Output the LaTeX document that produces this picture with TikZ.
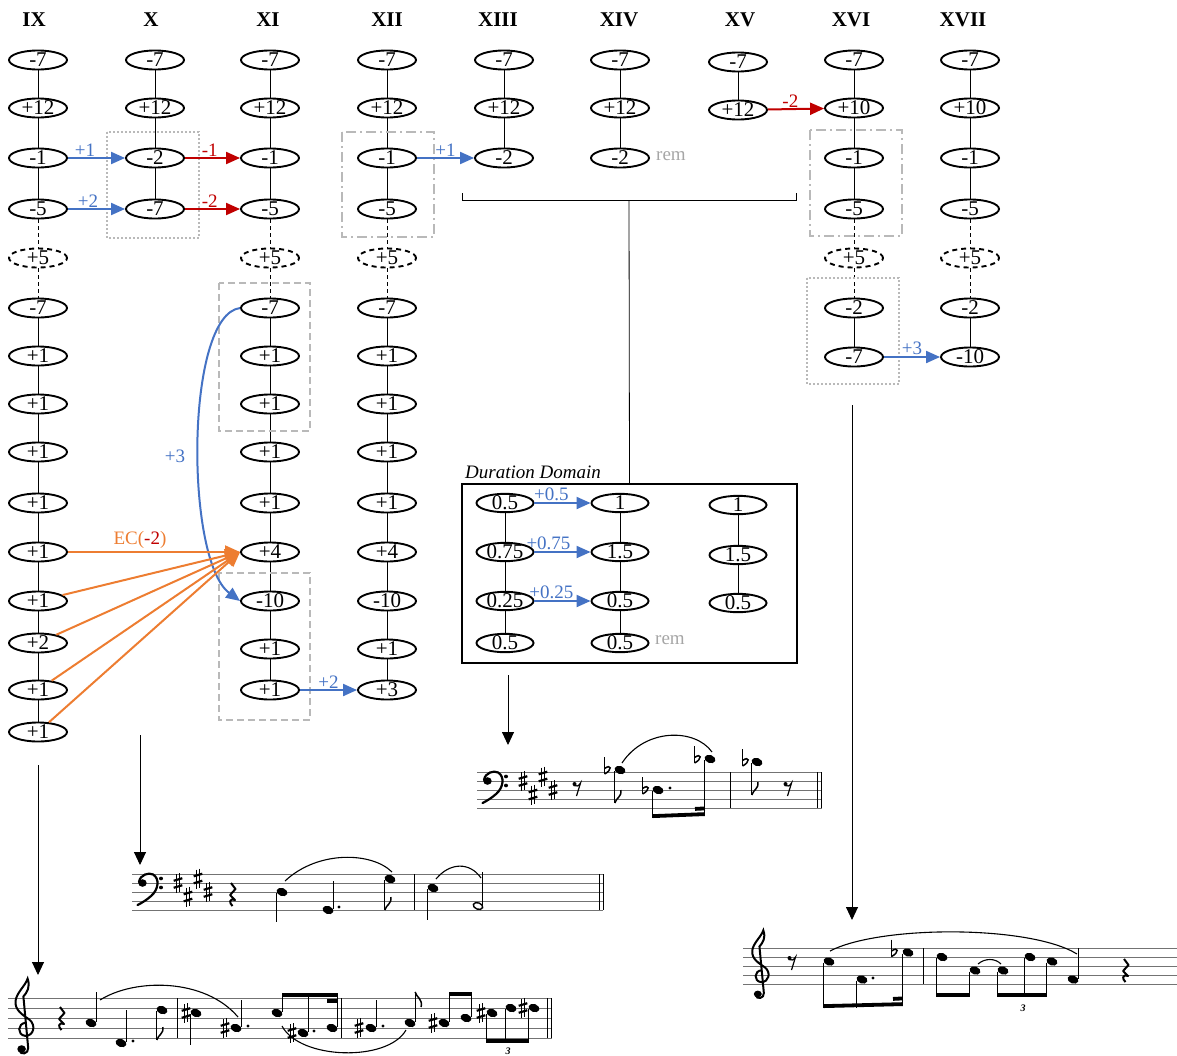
\documentclass[tikz,border=0pt]{standalone}
\usepackage{fontspec}
\setmainfont{Liberation Serif}
\usetikzlibrary{shapes.geometric, arrows.meta}

\definecolor{ablue}{RGB}{68,114,196}
\definecolor{ared}{RGB}{192,0,0}
\definecolor{aorange}{RGB}{237,125,49}
\definecolor{boxgray}{RGB}{185,185,185}
\definecolor{remgray}{RGB}{166,166,166}

% small helpers for the music excerpts
\newcommand{\staff}[4]{\foreach \k in {0,...,4} \draw[line width=0.8pt, black!55] (#1,#3+\k*#4) -- (#2,#3+\k*#4);}
\newcommand{\nhead}[2]{\fill[rotate around={-20:(#1,#2)}] (#1,#2) ellipse (5.6 and 4);}
\newcommand{\ohead}[2]{\draw[line width=1.4pt, rotate around={-20:(#1,#2)}] (#1,#2) ellipse (4.9 and 3.2);}
\newcommand{\stup}[3]{\draw[line width=1pt] (#1+5.1,#2-1) -- (#1+5.1,#3);}
\newcommand{\stdn}[3]{\draw[line width=1pt] (#1-5.1,#2+1) -- (#1-5.1,#3);}
\newcommand{\ndot}[2]{\fill (#1,#2) circle (1.6);}
\newcommand{\shrp}[2]{%
  \draw[line width=0.9pt] (#1-1.8,#2-9) -- (#1-1.8,#2+10) (#1+1.8,#2-10) -- (#1+1.8,#2+9);
  \draw[line width=2.2pt] (#1-4.3,#2-2.2) -- (#1+4.3,#2-4.8) (#1-4.3,#2+4.8) -- (#1+4.3,#2+2.2);}
\newcommand{\flt}[2]{%
  \draw[line width=1pt] (#1-2.5,#2-13) -- (#1-2.5,#2+4);
  \draw[line width=1.5pt] (#1-2.5,#2+4) .. controls (#1+5.5,#2) and (#1+4.5,#2-6.5) .. (#1-2.5,#2-1.5);}
\newcommand{\flagdn}[2]{\draw[line width=1.5pt] (#1,#2) .. controls (#1+1,#2-5) and (#1+7,#2-6) .. (#1+6,#2-13);}
\newcommand{\flagup}[2]{\draw[line width=1.5pt] (#1,#2) .. controls (#1+1,#2+5) and (#1+8,#2+7) .. (#1+6,#2+15);}
\newcommand{\qrest}[2]{\draw[line width=2pt, line join=round] (#1-1,#2-11) -- (#1+3.5,#2-5) -- (#1-2,#2+1) -- (#1+3,#2+6) .. controls (#1-3,#2+4) and (#1-3,#2+9) .. (#1+0.5,#2+12);}
\newcommand{\erest}[2]{\fill (#1-2.5,#2-4) circle (2); \draw[line width=1.2pt] (#1-3.5,#2-2.5) .. controls (#1-1,#2-1) and (#1+2,#2-2) .. (#1+3.5,#2-5) -- (#1-0.5,#2+8);}
\newcommand{\beam}[4]{\draw[line width=3.8pt] (#1,#2) -- (#3,#4);}
\newcommand{\barl}[3]{\draw[line width=0.9pt] (#1,#2) -- (#1,#3);}
\newcommand{\gclef}[4]{%
  \begin{scope}[shift={(#1,#2)}, x=#3, y=#4]
    \draw[line width=2pt, line cap=round] (0.15,0.5) .. controls (-0.55,0.45) and (-0.6,-0.65) .. (0.1,-0.75)
      .. controls (0.85,-0.75) and (1.0,0.3) .. (0.45,0.8) .. controls (-0.1,1.25) and (-0.8,1.7) .. (-0.7,2.6)
      .. controls (-0.6,3.4) and (0.1,4.0) .. (0.3,4.7) .. controls (0.55,3.9) and (0.25,3.4) .. (-0.05,3.0)
      -- (0.35,-1.9) .. controls (0.4,-2.45) and (-0.3,-2.65) .. (-0.4,-2.1);
    \fill (-0.2,-2.0) circle (0.36);
  \end{scope}}
\newcommand{\fclef}[4]{%
  \begin{scope}[shift={(#1,#2)}, x=#3, y=#4]
    \fill (-0.45,0.0) circle (0.42);
    \draw[line width=2.2pt, line cap=round] (-0.8,0.1) .. controls (-0.7,0.95) and (0.2,1.2) .. (0.6,0.95)
      .. controls (1.3,0.5) and (1.15,-0.75) .. (0.4,-1.45) .. controls (0,-1.85) and (-0.5,-2.2) .. (-0.95,-2.45);
    \fill (1.4,0.5) circle (0.2);
    \fill (1.4,-0.5) circle (0.2);
  \end{scope}}

\begin{document}
\begin{tikzpicture}[x=1pt, y=-1pt,
    pc/.style={ellipse, draw, line width=1.9pt, minimum width=58pt, minimum height=19pt, inner sep=0pt, text height=13pt, text depth=0pt, font=\fontsize{21}{21}\selectfont},
    ghost/.style={pc, dash pattern=on 5pt off 4pt},
    dur/.style={pc, minimum width=57pt, minimum height=17pt},
    hdr/.style={font=\fontsize{21}{21}\selectfont\bfseries},
    lab/.style={font=\fontsize{19}{19}\selectfont, inner sep=1pt},
    link/.style={line width=0.8pt},
    dlink/.style={line width=0.8pt, dash pattern=on 4pt off 3pt},
    barrow/.style={-{Triangle[length=14pt,width=12pt]}, ablue, line width=2pt},
    rarrow/.style={-{Triangle[length=14pt,width=12pt]}, ared, line width=2pt},
    oarrow/.style={-{Triangle[length=15pt,width=13pt]}, aorange, line width=2pt},
    darrow/.style={-{Triangle[length=13pt,width=12pt]}, line width=0.9pt},
    dotbox/.style={boxgray, line width=1.5pt, dash pattern=on 2pt off 2pt},
    dashbox/.style={boxgray, line width=1.5pt, dash pattern=on 7pt off 4pt},
    dotdashbox/.style={boxgray, line width=1.5pt, dash pattern=on 10pt off 4pt on 2pt off 4pt},
    slur/.style={line width=1.1pt}]
    \useasboundingbox (0,0) rectangle (1177,1055);

    % Column headers
    \node[hdr] (hIX) at (34,20) {IX};
    \node[hdr] (hX) at (151,20) {X};
    \node[hdr] (hXI) at (268,20) {XI};
    \node[hdr] (hXII) at (387,20) {XII};
    \node[hdr] (hXIII) at (498,20) {XIII};
    \node[hdr] (hXIV) at (619,20) {XIV};
    \node[hdr] (hXV) at (740,20) {XV};
    \node[hdr] (hXVI) at (851,20) {XVI};
    \node[hdr] (hXVII) at (963,20) {XVII};

    % Column IX
    \node[pc] (IX1) at (38,60) {-7};
    \node[pc] (IX2) at (38,108) {+12};
    \node[pc] (IX3) at (38,158) {-1};
    \node[pc] (IX4) at (38,209) {-5};
    \node[ghost] (IX5) at (38,258) {+5};
    \node[pc] (IX6) at (38,308) {-7};
    \node[pc] (IX7) at (38,356) {+1};
    \node[pc] (IX8) at (38,404) {+1};
    \node[pc] (IX9) at (38,452) {+1};
    \node[pc] (IX10) at (38,503) {+1};
    \node[pc] (IX11) at (38,552) {+1};
    \node[pc] (IX12) at (38,601) {+1};
    \node[pc] (IX13) at (38,643) {+2};
    \node[pc] (IX14) at (38,690) {+1};
    \node[pc] (IX15) at (38,732) {+1};

    % Column X
    \node[pc] (X1) at (155,60) {-7};
    \node[pc] (X2) at (155,108) {+12};
    \node[pc] (X3) at (155,158) {-2};
    \node[pc] (X4) at (155,209) {-7};

    % Column XI
    \node[pc] (XI1) at (270,60) {-7};
    \node[pc] (XI2) at (270,108) {+12};
    \node[pc] (XI3) at (270,158) {-1};
    \node[pc] (XI4) at (270,209) {-5};
    \node[ghost] (XI5) at (270,258) {+5};
    \node[pc] (XI6) at (270,308) {-7};
    \node[pc] (XI7) at (270,356) {+1};
    \node[pc] (XI8) at (270,404) {+1};
    \node[pc] (XI9) at (270,452) {+1};
    \node[pc] (XI10) at (270,503) {+1};
    \node[pc] (XI11) at (270,552) {+4};
    \node[pc] (XI12) at (270,601) {-10};
    \node[pc] (XI13) at (270,649) {+1};
    \node[pc] (XI14) at (270,690) {+1};

    % Column XII
    \node[pc] (XII1) at (387,60) {-7};
    \node[pc] (XII2) at (387,108) {+12};
    \node[pc] (XII3) at (387,158) {-1};
    \node[pc] (XII4) at (387,209) {-5};
    \node[ghost] (XII5) at (387,258) {+5};
    \node[pc] (XII6) at (387,308) {-7};
    \node[pc] (XII7) at (387,356) {+1};
    \node[pc] (XII8) at (387,404) {+1};
    \node[pc] (XII9) at (387,452) {+1};
    \node[pc] (XII10) at (387,503) {+1};
    \node[pc] (XII11) at (387,552) {+4};
    \node[pc] (XII12) at (387,601) {-10};
    \node[pc] (XII13) at (387,649) {+1};
    \node[pc] (XII14) at (387,690) {+3};

    % Columns XIII to XV
    \node[pc] (XIII1) at (504,60) {-7};
    \node[pc] (XIII2) at (504,108) {+12};
    \node[pc] (XIII3) at (504,158) {-2};
    \node[pc] (XIV1) at (620,60) {-7};
    \node[pc] (XIV2) at (620,108) {+12};
    \node[pc] (XIV3) at (620,158) {-2};
    \node[lab, remgray, anchor=west] (rem1) at (655,156) {rem};
    \node[pc] (XV1) at (738,62) {-7};
    \node[pc] (XV2) at (738,110) {+12};

    % Column XVI
    \node[pc] (XVI1) at (854,60) {-7};
    \node[pc] (XVI2) at (854,108) {+10};
    \node[pc] (XVI3) at (854,158) {-1};
    \node[pc] (XVI4) at (854,209) {-5};
    \node[ghost] (XVI5) at (854,258) {+5};
    \node[pc] (XVI6) at (854,308) {-2};
    \node[pc] (XVI7) at (854,357) {-7};

    % Column XVII
    \node[pc] (XVII1) at (970,60) {-7};
    \node[pc] (XVII2) at (970,108) {+10};
    \node[pc] (XVII3) at (970,158) {-1};
    \node[pc] (XVII4) at (970,209) {-5};
    \node[ghost] (XVII5) at (970,258) {+5};
    \node[pc] (XVII6) at (970,308) {-2};
    \node[pc] (XVII7) at (970,357) {-10};

    % Chains inside the columns
    \draw[link] (IX1) -- (IX2) -- (IX3) -- (IX4);
    \draw[dlink] (IX4) -- (IX5) -- (IX6);
    \draw[link] (IX6) -- (IX7) -- (IX8) -- (IX9) -- (IX10) -- (IX11) -- (IX12) -- (IX13) -- (IX14) -- (IX15);
    \draw[link] (X1) -- (X2) -- (X3) -- (X4);
    \draw[link] (XI1) -- (XI2) -- (XI3) -- (XI4);
    \draw[dlink] (XI4) -- (XI5) -- (XI6);
    \draw[link] (XI6) -- (XI7) -- (XI8) -- (XI9) -- (XI10) -- (XI11) -- (XI12) -- (XI13) -- (XI14);
    \draw[link] (XII1) -- (XII2) -- (XII3) -- (XII4);
    \draw[dlink] (XII4) -- (XII5) -- (XII6);
    \draw[link] (XII6) -- (XII7) -- (XII8) -- (XII9) -- (XII10) -- (XII11) -- (XII12) -- (XII13) -- (XII14);
    \draw[link] (XIII1) -- (XIII2) -- (XIII3);
    \draw[link] (XIV1) -- (XIV2) -- (XIV3);
    \draw[link] (XV1) -- (XV2);
    \draw[link] (XVI1) -- (XVI2) -- (XVI3) -- (XVI4);
    \draw[dlink] (XVI4) -- (XVI5) -- (XVI6);
    \draw[link] (XVI6) -- (XVI7);
    \draw[link] (XVII1) -- (XVII2) -- (XVII3) -- (XVII4);
    \draw[dlink] (XVII4) -- (XVII5) -- (XVII6);
    \draw[link] (XVII6) -- (XVII7);

    % Boxes round the groups
    \draw[dotbox] (107,132) rectangle (199,238);
    \draw[dashbox] (219,283) rectangle (310,431);
    \draw[dashbox] (219,573) rectangle (310,720);
    \draw[dotdashbox] (342,132) rectangle (434,237);
    \draw[dotdashbox] (810,130) rectangle (902,236);
    \draw[dotbox] (807,278) rectangle (899,384);

    % Transformations between the columns
    \draw[barrow] (IX3) -- (X3) node[lab, ablue, above, pos=0.3] {+1};
    \draw[barrow] (IX4) -- (X4) node[lab, ablue, above, pos=0.35] {+2};
    \draw[rarrow] (X3) -- (XI3) node[lab, ared, above, pos=0.45] {-1};
    \draw[rarrow] (X4) -- (XI4) node[lab, ared, above, pos=0.45] {-2};
    \draw[barrow] (XII3) -- (XIII3) node[lab, ablue, above, pos=0.5] {+1};
    \draw[rarrow] (XV2) -- (XVI2) node[lab, ared, above, pos=0.4] {-2};
    \draw[barrow] (XVI7) -- (XVII7) node[lab, ablue, above, pos=0.5] {+3};
    \draw[barrow] (XI14) -- (XII14) node[lab, ablue, above, pos=0.5] {+2};
    \draw[barrow] (XI6.west) .. controls (185,315) and (185,560) .. (XI12.west);
    \node[lab, ablue] (lab3) at (175,456) {+3};
    \draw[oarrow] (IX11) -- (XI11.west);
    \draw[oarrow] (IX12) -- (XI11.west);
    \draw[oarrow] (IX13) -- (XI11.west);
    \draw[oarrow] (IX14) -- (XI11.west);
    \draw[oarrow] (IX15) -- (XI11.west);
    \node[lab, aorange] (labEC) at (140,540) {EC(\textcolor{ared}{-2})};

    % Duration domain
    \coordinate (brk) at (629,200);
    \draw[link] (462,193) -- (462,200) -- (796,200) -- (796,193);
    \node[draw, line width=2pt, minimum width=335pt, minimum height=179pt, inner sep=0pt] (durbox) at (629.5,573.5) {};
    \draw[link] (brk) -- (durbox.north);
    \node[font=\fontsize{19}{19}\selectfont\itshape, anchor=base west, inner sep=0pt] (durlab) at (465,478) {Duration Domain};
    \node[dur] (dA1) at (505,503) {0.5};
    \node[dur] (dA2) at (505,552) {0.75};
    \node[dur] (dA3) at (505,601) {0.25};
    \node[dur] (dA4) at (505,643) {0.5};
    \node[dur] (dB1) at (620,503) {1};
    \node[dur] (dB2) at (620,552) {1.5};
    \node[dur] (dB3) at (620,601) {0.5};
    \node[dur] (dB4) at (620,643) {0.5};
    \node[lab, remgray, anchor=west] (rem2) at (654,640) {rem};
    \node[dur] (dC1) at (738,505) {1};
    \node[dur] (dC2) at (738,555) {1.5};
    \node[dur] (dC3) at (738,603) {0.5};
    \draw[link] (dA1) -- (dA2) -- (dA3) -- (dA4);
    \draw[link] (dB1) -- (dB2) -- (dB3) -- (dB4);
    \draw[link] (dC1) -- (dC2) -- (dC3);
    \draw[barrow] (dA1) -- (dB1) node[lab, ablue, above, pos=0.3] {+0.5};
    \draw[barrow] (dA2) -- (dB2) node[lab, ablue, above, pos=0.25] {+0.75};
    \draw[barrow] (dA3) -- (dB3) node[lab, ablue, above, pos=0.3] {+0.25};

    % Arrows down to the excerpts
    \coordinate (s1a) at (38,765);
    \coordinate (s1b) at (38,975);
    \coordinate (s2a) at (140,735);
    \coordinate (s2b) at (140,865);
    \coordinate (s3a) at (508,675);
    \coordinate (s3b) at (508,745);
    \coordinate (s4a) at (852,405);
    \coordinate (s4b) at (852,920);
    \draw[darrow] (s1a) -- (s1b);
    \draw[darrow] (s2a) -- (s2b);
    \draw[darrow] (s3a) -- (s3b);
    \draw[darrow] (s4a) -- (s4b);

    % Excerpt 1 (treble, bottom left)
    \staff{8}{552}{998}{10}
    \gclef{24}{1028}{12pt}{10.5pt}
    \qrest{61}{1018}
    \nhead{91}{1023} \stup{91}{1023}{992}
    \draw[slur] (100,1000) .. controls (135,978) and (205,978) .. (238,1017);
    \nhead{121}{1043} \stup{121}{1043}{1010} \ndot{133}{1041}
    \nhead{162}{1010} \stdn{162}{1010}{1040} \flagdn{156.9}{1040}
    \barl{177}{998}{1038}
    \shrp{186}{1013} \nhead{196}{1013} \stdn{196}{1013}{1045}
    \shrp{225}{1028} \nhead{236}{1028} \stup{236}{1028}{1000} \ndot{248}{1026}
    \nhead{277}{1013} \stup{277}{1013}{993}
    \shrp{292}{1033} \nhead{303}{1033} \stup{303}{1033}{993} \ndot{314}{1031}
    \nhead{332}{1028} \stup{332}{1028}{993}
    \beam{282.1}{994.9}{337.1}{994.9}
    \beam{327}{1000.8}{337.1}{1000.8}
    \draw[slur] (282,1026) .. controls (300,1060) and (388,1062) .. (406,1030);
    \barl{341}{998}{1038}
    \shrp{359}{1028} \nhead{371}{1028} \stup{371}{1028}{1000} \ndot{383}{1026}
    \nhead{410}{1023} \stup{410}{1023}{992} \flagup{415.1}{992}
    \shrp{433}{1023} \nhead{444}{1023} \stup{444}{1023}{992}
    \nhead{466}{1018} \stup{466}{1018}{992}
    \beam{449.1}{993.9}{471.1}{993.9}
    \shrp{481}{1013} \nhead{492}{1013} \stdn{492}{1013}{1043}
    \nhead{511}{1008} \stdn{511}{1008}{1043}
    \shrp{523}{1008} \nhead{534}{1008} \stdn{534}{1008}{1043}
    \beam{486.9}{1041.1}{528.9}{1041.1}
    \node[font=\fontsize{10}{10}\selectfont\bfseries\itshape, inner sep=0pt] (trip1) at (508,1051) {3};
    \barl{547}{998}{1038} \barl{551}{998}{1038}

    % Excerpt 2 (bass, middle left)
    \staff{132}{603}{874}{9}
    \fclef{147}{883}{10pt}{9pt}
    \shrp{178}{883} \shrp{188}{896.5} \shrp{198}{878.5} \shrp{208}{892}
    \qrest{232}{894}
    \nhead{282}{892} \stdn{282}{892}{922}
    \draw[slur] (285,881) .. controls (318,850) and (372,852) .. (392,872);
    \nhead{328}{910} \stup{328}{910}{881} \ndot{339}{907}
    \nhead{390}{879} \stdn{390}{879}{910} \flagdn{384.9}{910}
    \barl{414}{874}{910}
    \nhead{433}{888} \stdn{433}{888}{920}
    \draw[slur] (436,879) .. controls (450,862) and (470,862) .. (481,878);
    \ohead{478}{906} \draw[line width=1pt] (482.6,905) -- (482.6,872);
    \barl{599}{874}{910} \barl{603}{874}{910}

    % Excerpt 3 (bass, right of the box)
    \staff{477}{822}{772}{9}
    \fclef{492}{781}{10pt}{9pt}
    \shrp{523}{781} \shrp{533}{794.5} \shrp{543}{776.5} \shrp{553}{790}
    \erest{577}{788}
    \flt{607}{770} \nhead{620}{770} \stdn{620}{770}{803} \flagdn{614.9}{803}
    \flt{645}{790} \nhead{658}{790} \stdn{658}{790}{818} \ndot{670}{788}
    \flt{697}{759} \nhead{710}{759} \stdn{710}{759}{816}
    \beam{652.9}{816.1}{704.9}{814.1}
    \beam{695}{808.9}{704.9}{808.4}
    \draw[slur] (622,763) .. controls (645,728) and (695,728) .. (712,752);
    \barl{730}{772}{808}
    \flt{745}{762} \nhead{757}{762} \stdn{757}{762}{795} \flagdn{751.9}{795}
    \erest{788}{788}
    \barl{817}{772}{808} \barl{821}{772}{808}

    % Excerpt 4 (treble, bottom right)
    \staff{743}{1177}{948}{9}
    \gclef{760}{975}{11pt}{9.5pt}
    \erest{792}{962}
    \nhead{829}{961.5} \stdn{829}{961.5}{1008}
    \nhead{862}{979.5} \stdn{862}{979.5}{1008} \ndot{873}{978}
    \flt{894}{952.5} \nhead{908}{952.5} \stdn{908}{952.5}{1006}
    \beam{823.9}{1006.1}{902.9}{1004.1}
    \beam{893}{998.9}{902.9}{998.4}
    \draw[slur] (830,951) .. controls (880,925) and (1030,925) .. (1077,954);
    \barl{923}{948}{984}
    \nhead{942}{957} \stdn{942}{957}{997}
    \nhead{975}{970.5} \stdn{975}{970.5}{997}
    \beam{936.9}{995.1}{969.9}{995.1}
    \nhead{1003}{970.5} \stdn{1003}{970.5}{997}
    \nhead{1030}{957} \stdn{1030}{957}{997}
    \nhead{1052}{961.5} \stdn{1052}{961.5}{997}
    \beam{997.9}{995.1}{1046.9}{995.1}
    \node[font=\fontsize{10}{10}\selectfont\bfseries\itshape, inner sep=0pt] (trip2) at (1023,1008) {3};
    \draw[slur] (978,964) .. controls (985,958) and (995,958) .. (1001,964);
    \nhead{1073}{979.5} \stup{1073}{979.5}{948}
    \qrest{1125}{970}
\end{tikzpicture}
\end{document}
